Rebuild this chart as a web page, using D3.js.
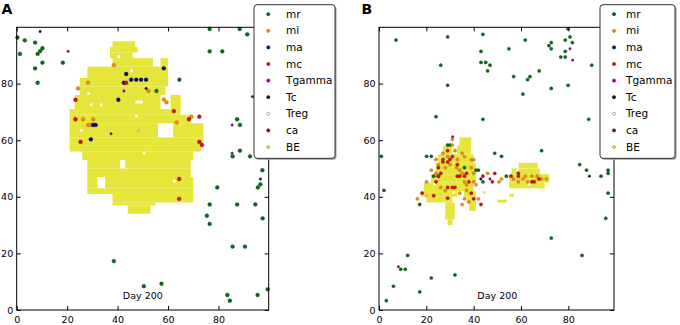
<!DOCTYPE html>
<html>
<head>
  <meta charset="utf-8">
  <script src="https://cdn.jsdelivr.net/npm/d3@7"></script>
  <style>
    body { margin: 0; background: #ffffff; }
    svg text { font-family: "DejaVu Sans", sans-serif; }
    .tick line { stroke: #000; }
    .tick text { font-size: 9.5px; fill: #000; }
  </style>
</head>
<body>
<svg id="mainsvg" width="680" height="325"></svg>
<script>
  // ---- data (grid units 0..100) ----
  const legendKeys = ["mr", "mi", "ma", "mc", "Tgamma", "Tc", "Treg", "ca", "BE"];
  const tickVals = [0, 20, 40, 60, 80];
  const dayLabel = "Day 200";

  // BE cells as row bands: [yFrom, yTo, xFrom, xTo]
  const beA = [
    [93, 95, 38, 47], [91, 93, 37, 48], [89, 91, 37, 46], [86, 89, 38, 54], [86, 89, 57, 60],
    [82, 86, 28, 60], [79, 82, 25, 60], [76, 79, 25, 59], [71, 76, 23, 57], [71, 76, 61, 65],
    [69, 71, 21, 65], [66, 69, 21, 69], [61, 66, 21, 56], [61, 66, 62, 74],
    [58, 61, 21, 74], [56, 58, 21, 73], [53, 56, 26, 70], [50, 53, 28, 41], [50, 53, 43, 69],
    [47, 50, 28, 69], [43, 47, 28, 32], [43, 47, 35, 70], [41, 43, 28, 70],
    [38, 41, 38, 70], [37, 38, 38, 55], [34, 37, 44, 53]
  ];
  const holesA = [[28, 76], [29, 72], [47, 73], [48, 73], [49, 73], [47, 68], [25, 63], [50, 55], [62, 45], [33, 72], [40, 89], [45, 84]];
  const beB = [
    [58, 61, 34, 39], [55, 58, 27, 31], [55, 58, 33, 39], [52, 55, 25, 40],
    [48, 52, 24, 41], [45, 48, 22, 41], [42, 45, 19, 40], [40, 42, 18, 33],
    [40, 42, 36, 41], [38, 40, 20, 31], [38, 40, 37, 41], [35, 38, 28, 32],
    [35, 38, 38, 41], [32, 35, 28, 32], [30, 32, 29, 31],
    [50, 52, 59, 67], [48, 50, 56, 68], [45, 48, 55, 72], [43, 45, 55, 70],
    [38, 39, 50, 54], [40, 41, 55, 57], [41, 42, 44, 45]
  ];
  const holesB = [[23, 44], [31, 41], [26, 53], [40, 43], [63, 44], [58, 49]];

  // panel A cells
  const mrA = [[0.3, 96.3], [1.3, 90.5], [3.2, 95.3], [7.3, 94.5], [7.3, 85.4], [8.3, 80.3], [8.3, 90.5],
    [9.3, 91.5], [10.2, 92.5], [10.2, 87.4], [18.3, 87.4], [76.5, 99.3], [88.4, 99.3], [91.4, 97.4],
    [76.5, 91.4], [81.5, 91.4], [64.5, 81.4], [55.4, 77.4], [87.4, 67.4], [88.5, 65.4], [88.5, 56.3],
    [85.6, 54.3], [92.5, 54.3], [97.4, 49.4], [96.6, 44.4], [95.6, 43.3], [79.5, 43.3], [76.5, 37.3],
    [87.4, 37.3], [94.6, 37.3], [75.4, 33.3], [76.5, 30.4], [97.5, 32.4], [85.6, 22.4], [90.5, 22.4],
    [38.5, 17.3], [50.4, 8.4], [57.4, 9.3], [83.5, 5.3], [84.5, 3.3], [95.5, 5.3], [99.5, 7.3]];
  const miA = [[38.5, 86.5], [24.3, 78.3], [28.3, 80.3], [26.3, 67.4], [30.3, 67.4], [28.3, 65.4],
    [29.4, 65.4], [52.2, 77.4], [58.3, 74.4], [59.4, 73.4], [63.4, 66.3], [69.3, 68.3]];
  const maA = [[43.4, 83.4], [42.5, 80.3], [45.4, 81.4], [47.4, 81.4], [49.3, 81.4], [51.3, 81.4],
    [58.3, 85.4], [40.3, 74.3], [30.3, 65.4], [31.3, 65.4], [29.4, 60.3]];
  const mcA = [[43.4, 80.3], [23.3, 74.3], [23.3, 67.4], [25.3, 59.4], [62.3, 70.3], [68.3, 67.4],
    [72.4, 68.3], [72.4, 59.4], [73.4, 58.3], [64.4, 46.3], [64.4, 39.3]];
  const tgA = [[20.4, 91.4], [85.4, 65.4], [85.4, 55.4], [37.4, 62.3], [42.5, 77.4]];
  const tcA = [[9.3, 98.4], [93.5, 75.4], [96.6, 46.3], [51.3, 78.3]];
  const tregA = [[48.3, 63.4]];

  // panel B cells
  const mrB = [[7.2, 95.4], [29.0, 96.5], [43.9, 97.4], [79.9, 99.3], [61.8, 95.4], [54.9, 92.3],
    [43.1, 91.4], [43.1, 87.5], [45.1, 87.5], [46.9, 86.5], [45.9, 84.5], [26.1, 86.5], [29.0, 79.4],
    [56.9, 82.5], [62.8, 81.4], [63.8, 82.5], [67.7, 84.5], [60.8, 76.3], [71.8, 93.4], [72.8, 94.5],
    [72.8, 92.3], [76.8, 89.4], [78.7, 89.4], [78.7, 91.4], [78.7, 95.4], [80.7, 96.5], [81.7, 94.5],
    [72.8, 78.3], [79.9, 79.4], [89.9, 86.5], [88.6, 67.4], [24.1, 68.3], [43.9, 67.4], [1.0, 54.3],
    [2.1, 42.3], [68.7, 56.3], [84.8, 51.4], [87.7, 49.4], [93.8, 47.3], [96.8, 49.4], [96.8, 48.3],
    [96.8, 41.3], [95.8, 32.4], [72.8, 25.4], [85.8, 19.3], [12.1, 19.3], [9.2, 14.4], [11.1, 14.4],
    [22.1, 11.3], [32.1, 12.4], [6.1, 8.4], [17.2, 6.4], [3.1, 3.3],
    [48.9, 55.4], [51.8, 54.3], [20.1, 54.3], [22.1, 54.3], [29.0, 58.3], [30.0, 58.3], [17.2, 37.3],
    [36.1, 50.3], [41.0, 49.4], [42.0, 49.4], [43.9, 45.3], [53.8, 47.3], [23.1, 47.3], [25.1, 47.3]];
  const miB = [[31.0, 60.3], [31.0, 58.3], [29.0, 54.2], [32.1, 56.3], [35.1, 55.4], [36.1, 54.2],
    [24.1, 53.2], [25.1, 51.4], [22.1, 49.4], [39.0, 53.1], [40.0, 53.1], [39.0, 50.3], [40.0, 48.3],
    [35.1, 48.3], [34.1, 49.4], [36.1, 45.3], [37.0, 44.3], [40.0, 45.3], [41.0, 44.3], [20.1, 45.3],
    [16.2, 39.3], [26.1, 43.3], [28.0, 42.2], [34.1, 41.3], [36.1, 39.3], [38.0, 38.2], [35.1, 37.3],
    [42.0, 39.3], [45.9, 48.3], [51.8, 46.3], [50.7, 45.3], [56.9, 46.3], [60.8, 46.3], [61.8, 47.3],
    [66.8, 47.3], [68.7, 46.3], [70.7, 46.3], [64.6, 47.3], [32.8, 50.3], [28.0, 50.3], [24.1, 48.3],
    [27.0, 55.4], [33.1, 53.2], [30.0, 51.4], [37.0, 42.3], [62.8, 45.3], [58.9, 45.3]];
  const mcB = [[29.0, 56.3], [27.0, 53.2], [27.0, 52.3], [29.0, 52.3], [31.0, 54.2], [33.1, 51.4],
    [25.1, 50.3], [24.1, 45.3], [18.2, 41.3], [23.1, 40.4], [29.0, 43.3], [32.1, 43.3], [33.1, 47.3],
    [34.1, 47.3], [37.0, 48.3], [38.0, 45.3], [39.0, 41.3], [40.0, 39.3], [43.1, 37.3], [43.9, 47.3],
    [48.9, 48.3], [47.9, 45.3], [55.8, 47.3], [58.9, 48.3], [58.9, 47.3], [64.6, 45.3], [65.6, 45.3],
    [67.6, 46.3], [29.0, 39.5], [25.1, 47.3], [26.1, 48.3], [30.0, 53.2], [31.0, 43.3], [36.1, 47.3]];
  const tgB = [[80.7, 92.3], [81.8, 88.3], [8.2, 15.3], [31.1, 61.2], [46.9, 46.3]];
  const tcB = [[88.9, 47.3], [43.0, 46.3]];
  const tregB = [[20.1, 40.3]];

  const colors = {
    mr: "#0b6a1c", mi: "#ea8c1e", ma: "#0c0c80", mc: "#d01212",
    Tgamma: "#8c0f8c", Tc: "#2c0a30", Treg: "#f2c4cc", ca: "#6a2208", BE: "#e6e63a"
  };
  const edges = {
    mr: "#05420f", mi: "#b86a10", ma: "#000050", mc: "#900000",
    Tgamma: "#5a005a", Tc: "#12001a", Treg: "#a06878", ca: "#3a1000", BE: "#9a9a10"
  };

  const svg = d3.select("#mainsvg");

  function drawPanel(opts) {
    const x = d3.scaleLinear().domain([0, opts.xMax]).range([opts.left, opts.right]);
    const y = d3.scaleLinear().domain([0, 99.9]).range([310, 27.3]);
    const g = svg.append("g");

    // BE cells
    g.selectAll("rect.be").data(opts.be).enter().append("rect")
      .attr("class", "be")
      .attr("x", d => x(d[2]))
      .attr("y", d => y(d[1]))
      .attr("width", d => x(d[3]) - x(d[2]))
      .attr("height", d => y(d[0]) - y(d[1]))
      .attr("fill", colors.BE);
    g.selectAll("rect.hole").data(opts.holes).enter().append("rect")
      .attr("class", "hole")
      .attr("x", d => x(d[0]))
      .attr("y", d => y(d[1] + 1))
      .attr("width", d => x(d[0] + 1) - x(d[0]))
      .attr("height", d => y(d[1]) - y(d[1] + 1))
      .attr("fill", "#ffffff");

    // cell markers
    const layers = [["mr", opts.mr, opts.r], ["mi", opts.mi, opts.r], ["ma", opts.ma, opts.r],
      ["mc", opts.mc, opts.r], ["Tgamma", opts.tg, 1.2], ["Tc", opts.tc, 1.2], ["Treg", opts.treg, 1.2]];
    layers.forEach(([key, pts, r]) => {
      g.append("g").selectAll("circle").data(pts).enter().append("circle")
        .attr("cx", d => x(d[0]))
        .attr("cy", d => y(d[1]))
        .attr("r", r)
        .attr("fill", colors[key])
        .attr("stroke", edges[key])
        .attr("stroke-width", 0.4);
    });

    // axes, ticks inward on all four sides
    const xAxis = d3.axisBottom(x).tickValues(tickVals).tickSize(-4).tickPadding(6);
    const yAxis = d3.axisLeft(y).tickValues(tickVals).tickSize(-4).tickPadding(3.5);
    g.append("g").attr("transform", `translate(0,310)`).call(xAxis).call(a => a.select(".domain").remove());
    g.append("g").attr("transform", `translate(${opts.left},0)`).call(yAxis).call(a => a.select(".domain").remove());
    g.append("g").attr("transform", `translate(0,27.3)`)
      .call(d3.axisTop(x).tickValues(tickVals).tickSize(-4).tickFormat(""))
      .call(a => a.select(".domain").remove());
    g.append("g").attr("transform", `translate(${opts.right},0)`)
      .call(d3.axisRight(y).tickValues(tickVals).tickSize(-4).tickFormat(""))
      .call(a => a.select(".domain").remove());

    g.append("rect")
      .attr("x", opts.left).attr("y", 27.3)
      .attr("width", opts.right - opts.left).attr("height", 310 - 27.3)
      .attr("fill", "none").attr("stroke", "#000").attr("stroke-width", 1);

    g.append("text")
      .attr("x", x(50)).attr("y", y(4))
      .attr("text-anchor", "middle")
      .style("font-size", "9.5px")
      .text(dayLabel);

    g.append("text")
      .attr("x", opts.labelX).attr("y", 13.5)
      .style("font-size", "14px").style("font-weight", "bold")
      .text(opts.label);

    // legend
    const lg = svg.append("g").attr("transform", `translate(${opts.legX},4.7)`);
    lg.append("rect").attr("x", 1.5).attr("y", 1.5).attr("width", opts.legW).attr("height", 153.6)
      .attr("rx", 3).attr("fill", "#9a9a9a");
    lg.append("rect").attr("x", 0).attr("y", 0).attr("width", opts.legW).attr("height", 153.6)
      .attr("rx", 3).attr("fill", "#ffffff").attr("stroke", "#333").attr("stroke-width", 1);
    const row = lg.selectAll("g.row").data(legendKeys).enter().append("g")
      .attr("class", "row")
      .attr("transform", (d, i) => `translate(0,${9.5 + i * 16.6})`);
    row.append("circle")
      .attr("cx", opts.markX).attr("cy", 0).attr("r", 1.6)
      .attr("fill", d => d === "Treg" ? "#ffffff" : colors[d])
      .attr("stroke", d => edges[d]).attr("stroke-width", 0.6);
    row.append("text")
      .attr("x", opts.textX).attr("y", 0).attr("dy", "0.35em")
      .style("font-size", "10.5px")
      .text(d => d);
  }

  drawPanel({
    left: 16.7, right: 268.7, xMax: 99.9, r: 1.9, label: "A", labelX: 1.5,
    be: beA, holes: holesA, mr: mrA, mi: miA, ma: maA, mc: mcA, tg: tgA, tc: tcA, treg: tregA,
    legX: 254, legW: 81, markX: 14.3, textX: 32
  });
  drawPanel({
    left: 379, right: 614, xMax: 99.3, r: 1.6, label: "B", labelX: 361.5,
    be: beB, holes: holesB, mr: mrB, mi: miB, ma: [], mc: mcB, tg: tgB, tc: tcB, treg: tregB,
    legX: 600, legW: 75, markX: 14, textX: 26
  });
</script>
</body>
</html>
